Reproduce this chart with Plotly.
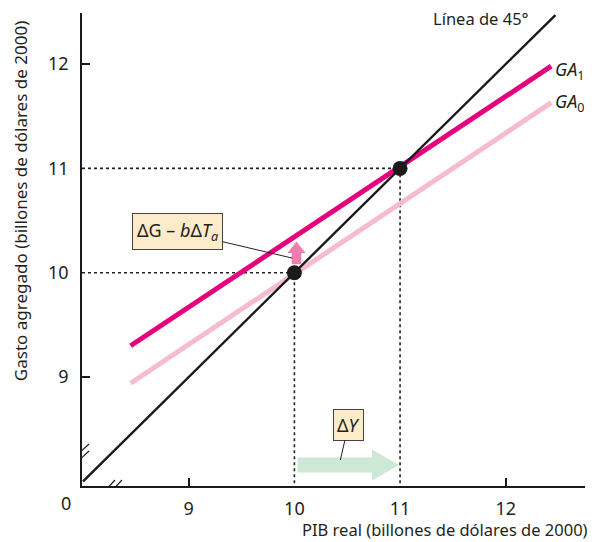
import plotly.graph_objects as go

# ---- data ----
tick_vals = [9, 10, 11, 12]
tick_text = ["9", "10", "11", "12"]
line45_x = [8.0, 12.47]
line45_y = [8.0, 12.47]
ga0_x = [8.45, 12.43]
ga0_y = [8.94, 11.63]
ga1_x = [8.45, 12.43]
ga1_y = [9.30, 11.98]
eq_x = [10, 11]
eq_y = [10, 11]
dy_arrow = dict(x0=10.03, x1=10.99, y=8.157)      # ΔY arrow
dg_arrow = dict(x=10.02, y0=10.08, y1=10.30)      # ΔG − bΔTa arrow

XR = [7.99, 12.75]
YR = [7.955, 12.49]

FONT = "Noto Sans"
TXT = "#231F20"
MAG = "#E5007D"
PINK = "#F6BBD0"

fig = go.Figure()

# dotted guides
for xv, yv in zip(eq_x, eq_y):
    fig.add_trace(go.Scatter(x=[XR[0], xv, xv], y=[yv, yv, YR[0]], mode="lines",
                             line=dict(color="#222", width=1.6, dash="dot"),
                             hoverinfo="skip", showlegend=False))

fig.add_trace(go.Scatter(x=ga0_x, y=ga0_y, mode="lines", line=dict(color=PINK, width=5),
                         showlegend=False))
fig.add_trace(go.Scatter(x=ga1_x, y=ga1_y, mode="lines", line=dict(color=MAG, width=5),
                         showlegend=False))
fig.add_trace(go.Scatter(x=line45_x, y=line45_y, mode="lines", line=dict(color="#1a1a1a", width=2.4),
                         showlegend=False))
fig.add_trace(go.Scatter(x=eq_x, y=eq_y, mode="markers",
                         marker=dict(color="#1a1a1a", size=15), showlegend=False))

shapes = []
# ΔY green arrow
xs_per_px = (XR[1] - XR[0]) / 503
ys_per_px = (YR[1] - YR[0]) / 473
a = dy_arrow
sh = 7.5 * ys_per_px
hh = 15.5 * ys_per_px
hl = 27 * xs_per_px
xb = a["x1"] - hl
path = (f"M {a['x0']},{a['y']-sh} L {xb},{a['y']-sh} L {xb},{a['y']-hh} L {a['x1']},{a['y']} "
        f"L {xb},{a['y']+hh} L {xb},{a['y']+sh} L {a['x0']},{a['y']+sh} Z")
shapes.append(dict(type="path", path=path, xref="x", yref="y", fillcolor="#CDE8D5",
                   line=dict(width=0), layer="above"))
# ΔG pink arrow
g = dg_arrow
sw = 4.8 * xs_per_px
hw = 9 * xs_per_px
hlen = 11.5 * ys_per_px
yb = g["y1"] - hlen
path = (f"M {g['x']-sw},{g['y0']} L {g['x']-sw},{yb} L {g['x']-hw},{yb} L {g['x']},{g['y1']} "
        f"L {g['x']+hw},{yb} L {g['x']+sw},{yb} L {g['x']+sw},{g['y0']} Z")
shapes.append(dict(type="path", path=path, xref="x", yref="y", fillcolor="#F07DB0",
                   line=dict(width=0), layer="above"))

# y-axis break (white gap + two slashes)
shapes.append(dict(type="line", xref="x", yref="y", xsizemode="pixel", ysizemode="pixel",
                   xanchor=XR[0], yanchor=YR[0], x0=0, x1=0, y0=28, y1=34,
                   line=dict(color="white", width=4)))
for off in (0, 7):
    shapes.append(dict(type="line", xref="x", yref="y", xsizemode="pixel", ysizemode="pixel",
                       xanchor=XR[0], yanchor=YR[0], x0=-7, x1=7, y0=22 + off, y1=35 + off,
                       line=dict(color="#1a1a1a", width=1.2)))
# x-axis break
shapes.append(dict(type="line", xref="x", yref="y", xsizemode="pixel", ysizemode="pixel",
                   xanchor=XR[0], yanchor=YR[0], x0=26, x1=32, y0=0, y1=0,
                   line=dict(color="white", width=4)))
for off in (0, 7):
    shapes.append(dict(type="line", xref="x", yref="y", xsizemode="pixel", ysizemode="pixel",
                       xanchor=XR[0], yanchor=YR[0], x0=20 + off, x1=33 + off, y0=-8, y1=6,
                       line=dict(color="#1a1a1a", width=1.2)))

annotations = [
    dict(x=11.30, y=12.44, xref="x", yref="y", text="Línea de 45°", showarrow=False,
         xanchor="left", yanchor="middle", borderpad=0,
         font=dict(size=16.5, color=TXT, family=FONT)),
    dict(x=12.445, y=11.94, xref="x", yref="y", text="<i>GA</i><sub>1</sub>", showarrow=False,
         xanchor="left", yanchor="middle", font=dict(size=18, color=TXT, family=FONT)),
    dict(x=12.445, y=11.63, xref="x", yref="y", text="<i>GA</i><sub>0</sub>", showarrow=False,
         xanchor="left", yanchor="middle", font=dict(size=18, color=TXT, family=FONT)),
    dict(x=9.98, y=10.14, xref="x", yref="y", ax=-115, ay=-27,
         text="ΔG – <i>b</i>Δ<i>T</i><sub><i>a</i></sub>", showarrow=True, arrowhead=0,
         arrowwidth=1, arrowcolor="#222", bgcolor="#FDEBC9", bordercolor="#444",
         borderwidth=1, borderpad=4, font=dict(size=18, color=TXT, family=FONT)),
    dict(x=10.435, y=8.204, xref="x", yref="y", ax=8, ay=-35,
         text="Δ<i>Y</i>", showarrow=True, arrowhead=0,
         arrowwidth=1, arrowcolor="#222", bgcolor="#FDEBC9", bordercolor="#444",
         borderwidth=1, borderpad=3, font=dict(size=18, color=TXT, family=FONT)),
    dict(x=-0.032, y=-0.036, xref="paper", yref="paper", text="0", showarrow=False,
         xanchor="center", yanchor="middle", font=dict(size=18, color=TXT, family=FONT)),
    dict(x=1.01, y=-0.093, xref="paper", yref="paper",
         text="PIB real (billones de dólares de 2000)", showarrow=False,
         xanchor="right", yanchor="middle", font=dict(size=16.5, color=TXT, family=FONT)),
    dict(x=-0.123, y=0.6025, xref="paper", yref="paper", textangle=-90,
         text="Gasto agregado (billones de dólares de 2000)", showarrow=False,
         xanchor="center", yanchor="middle", font=dict(size=17, color=TXT, family=FONT)),
]

axis_common = dict(showgrid=False, zeroline=False, showline=True, linecolor="#1a1a1a",
                   linewidth=1.5, ticks="", tickvals=tick_vals, ticktext=tick_text,
                   tickfont=dict(size=18, color=TXT, family=FONT),
                   minor=dict(tickvals=[9, 12], ticks="inside", ticklen=8,
                              tickcolor="#1a1a1a", tickwidth=1.5))

# page body has an 8px margin: the figure is shrunk so the plot area sits where the reference has it
fig.update_layout(
    width=587, height=534,
    margin=dict(l=74, r=10, t=5, b=56),
    plot_bgcolor="white", paper_bgcolor="white",
    xaxis=dict(range=XR, ticklabelstandoff=6, **axis_common),
    yaxis=dict(range=YR, ticklabelstandoff=8, **axis_common),
    shapes=shapes, annotations=annotations,
)

fig.write_html("out.html")
